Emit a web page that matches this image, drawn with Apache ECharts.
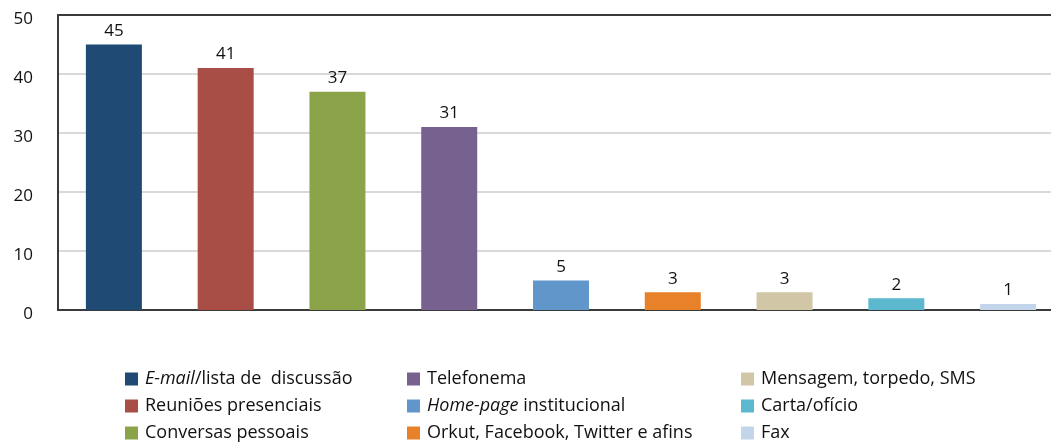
<!DOCTYPE html>
<html>
<head>
<meta charset="utf-8">
<script src="https://cdn.jsdelivr.net/npm/echarts@6/dist/echarts.min.js"></script>
<style>
  html, body { margin: 0; padding: 0; background: #fff; }
  #chart { width: 1051px; height: 444px; }
</style>
</head>
<body>
<div id="chart"></div>
<script>
var categories = [
    'E-mail/lista de  discussão',
    'Reuniões presenciais',
    'Conversas pessoais',
    'Telefonema',
    'Home-page institucional',
    'Orkut, Facebook, Twitter e afins',
    'Mensagem, torpedo, SMS',
    'Carta/ofício',
    'Fax'
];
var values = [45, 41, 37, 31, 5, 3, 3, 2, 1];
var colors = ['#1f4a73', '#a84e47', '#8ba44a', '#76618f', '#6096c9', '#e8822a', '#d1c6a5', '#5bb8ce', '#c3d5ea'];
var yTicks = [0, 10, 20, 30, 40, 50];

var chart = echarts.init(document.querySelector('#chart'), null, { renderer: 'canvas' });
var font = 'Open Sans';

var series = categories.map(function (name, i) {
    var data = values.map(function (v, j) { return j === i ? v : '-'; });
    return {
        name: name,
        type: 'bar',
        stack: 'all',
        barWidth: 56,
        data: data,
        itemStyle: { color: colors[i] },
        label: {
            show: true,
            position: 'top',
            distance: 5,
            fontFamily: font,
            fontSize: 17,
            color: '#111'
        }
    };
});

function legendFormatter(name) {
    if (name === categories[0]) return '{i|E-mail}/lista de  discussão';
    if (name === categories[4]) return '{i|Home-page} institucional';
    return name;
}

function makeLegend(names, left) {
    return {
        data: names,
        orient: 'vertical',
        left: left,
        top: 370,
        height: 74,
        padding: 0,
        itemWidth: 13,
        itemHeight: 13,
        itemGap: 9,
        icon: 'rect',
        selectedMode: false,
        formatter: legendFormatter,
        textStyle: {
            fontFamily: font,
            fontSize: 18,
            lineHeight: 18,
            color: '#111',
            padding: [0, 0, 0, 2],
            rich: {
                i: { fontFamily: font, fontSize: 18, lineHeight: 18, fontStyle: 'italic', color: '#111' }
            }
        }
    };
}

var option = {
    animation: false,
    grid: {
        left: 58,
        width: 1006,
        top: 15,
        height: 295,
        outerBoundsMode: 'none'
    },
    legend: [
        makeLegend(categories.slice(0, 3), 125),
        makeLegend(categories.slice(3, 6), 407),
        makeLegend(categories.slice(6, 9), 741)
    ],
    xAxis: [
        {
            type: 'category',
            data: categories,
            axisLine: { show: true, lineStyle: { color: '#3a3a3a', width: 2 } },
            axisTick: { show: false },
            axisLabel: { show: false }
        },
        {
            type: 'category',
            position: 'top',
            data: categories,
            axisLine: { show: true, lineStyle: { color: '#3a3a3a', width: 2 } },
            axisTick: { show: false },
            axisLabel: { show: false }
        }
    ],
    yAxis: {
        type: 'value',
        min: yTicks[0],
        max: yTicks[yTicks.length - 1],
        interval: 10,
        axisLine: { show: true, lineStyle: { color: '#3a3a3a', width: 2 } },
        axisTick: { show: false },
        axisLabel: {
            fontFamily: font,
            fontSize: 17,
            color: '#111',
            margin: 25,
            verticalAlign: 'top',
            lineHeight: 8
        },
        splitLine: { show: true, lineStyle: { color: '#cccccc', width: 1.5 } }
    },
    series: series
};

chart.setOption(option);

window.addEventListener('resize', function () {
    chart.resize();
});
</script>
</body>
</html>
